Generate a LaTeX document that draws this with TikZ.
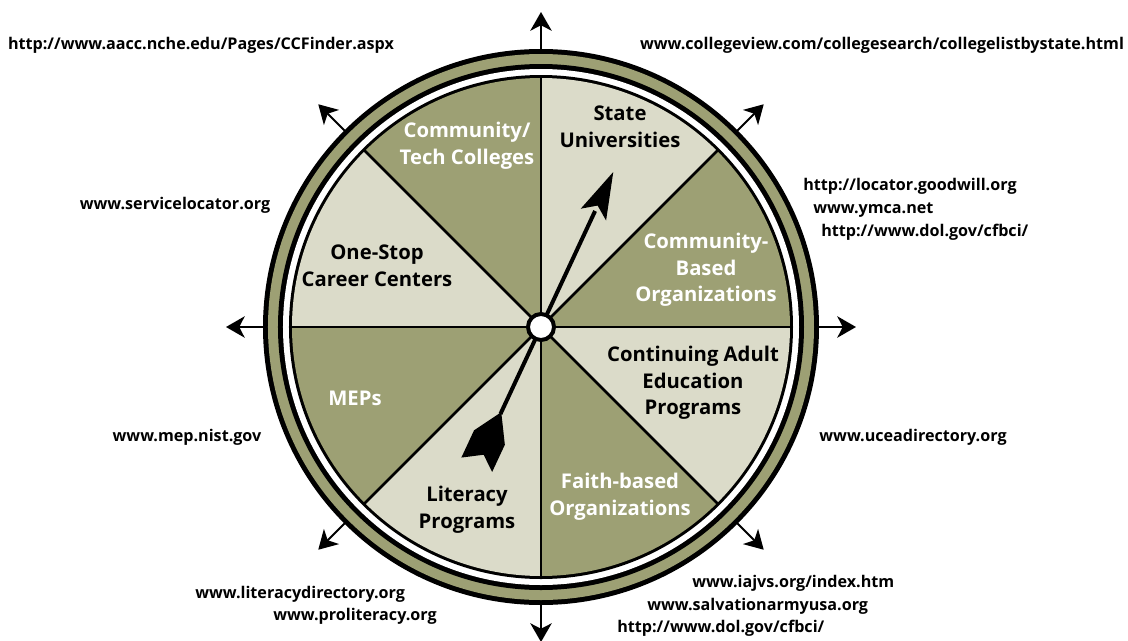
\documentclass[tikz,border=0pt]{standalone}
\usepackage{fontspec}
\setmainfont{Open Sans}
\usetikzlibrary{arrows.meta}
\definecolor{wheelolive}{RGB}{157,160,116}
\definecolor{wheellight}{RGB}{219,219,201}
\begin{document}
\begin{tikzpicture}[x=0.75pt,y=0.75pt,
  url/.style={font=\fontsize{12.1}{13}\selectfont\bfseries, inner sep=0pt},
  wlab/.style={font=\fontsize{15.2}{20}\selectfont\bfseries, align=center, inner sep=0pt},
  onolive/.style={wlab, text=white},
  onlight/.style={wlab, text=black},
  spoke/.style={line width=1.9pt, line cap=round},
  outarrow/.style={line width=1.5pt, -{Stealth[length=14pt,width=16pt,inset=4pt]}},
  needle/.style={line width=3pt}]
\useasboundingbox (-541,-313) rectangle (587,327);

% rings around the wheel
\fill[black] (0,0) circle (278);
\fill[wheelolive] (0,0) circle (273);
\fill[black] (0,0) circle (263);
\fill[white] (0,0) circle (258);
\fill[black] (0,0) circle (252);

% eight wedges, alternating colours
\foreach \a/\c in {90/wheellight,45/wheelolive,0/wheellight,-45/wheelolive,
                   -90/wheellight,-135/wheelolive,180/wheellight,135/wheelolive}{
  \fill[\c] (0,0) -- (\a:249) arc[start angle=\a, delta angle=-45, radius=249] -- cycle;
}
\foreach \a in {0,45,...,315}{
  \draw[spoke] (0,0) -- (\a:250);
}

% compass arrows pointing outward
\foreach \a in {0,45,...,315}{
  \coordinate (r\a) at (\a:277);
  \coordinate (t\a) at (\a:315);
  \draw[outarrow] (r\a) -- (t\a);
}

% spinner needle
\begin{scope}[rotate=65]
  \coordinate (nhead) at (128,0);
  \draw[needle] (0,0) -- (nhead);
  \fill[black] (171,0) -- (124,-14) -- (134,0) -- (124,14) -- cycle;
\end{scope}
\begin{scope}[rotate=245]
  \coordinate (ftail) at (96,0);
  \draw[needle] (0,0) -- (ftail);
  \fill[black] (94,0) -- (122,17) -- (152,17) -- (140,2) -- (152,-17) -- (122,-17) -- cycle;
\end{scope}

% hub
\node[circle, fill=white, draw=black, line width=3pt, minimum size=19.5pt, inner sep=0pt] (hub) at (0,0) {};

% wedge labels
\node[onlight] (stateu) at (79,200) {State\\Universities};
\node[onolive] (cbo) at (165,57) {Community-\\Based\\Organizations};
\node[onlight] (adulted) at (152,-56) {Continuing Adult\\Education\\Programs};
\node[onolive] (faith) at (79,-170) {Faith-based\\Organizations};
\node[onlight] (literacy) at (-74,-183) {Literacy\\Programs};
\node[onolive] (meps) at (-186,-71) {MEPs};
\node[onlight] (onestop) at (-164,61) {One-Stop\\Career Centers};
\node[onolive] (cc) at (-74,181) {Community/\\Tech Colleges};

% web addresses
\node[url] (uaacc) at (-340,282) {http://www.aacc.nche.edu/Pages/CCFinder.aspx};
\node[url] (ucollege) at (341,282) {www.collegeview.com/collegesearch/collegelistbystate.html};
\node[url, anchor=west] (ugood) at (262,141) {http://locator.goodwill.org};
\node[url, anchor=west] (uymca) at (272,117) {www.ymca.net};
\node[url, anchor=west] (udol1) at (280,95) {http://www.dol.gov/cfbci/};
\node[url] (uservice) at (-366,122) {www.servicelocator.org};
\node[url] (umep) at (-354,-110) {www.mep.nist.gov};
\node[url] (ucea) at (372,-110) {www.uceadirectory.org};
\node[url, anchor=west] (ulitdir) at (-346,-267) {www.literacydirectory.org};
\node[url, anchor=west] (uprolit) at (-268,-289) {www.proliteracy.org};
\node[url, anchor=west] (uiajvs) at (151,-256) {www.iajvs.org/index.htm};
\node[url, anchor=west] (usalv) at (106,-279) {www.salvationarmyusa.org};
\node[url, anchor=west] (udol2) at (76,-301) {http://www.dol.gov/cfbci/};
\end{tikzpicture}
\end{document}
